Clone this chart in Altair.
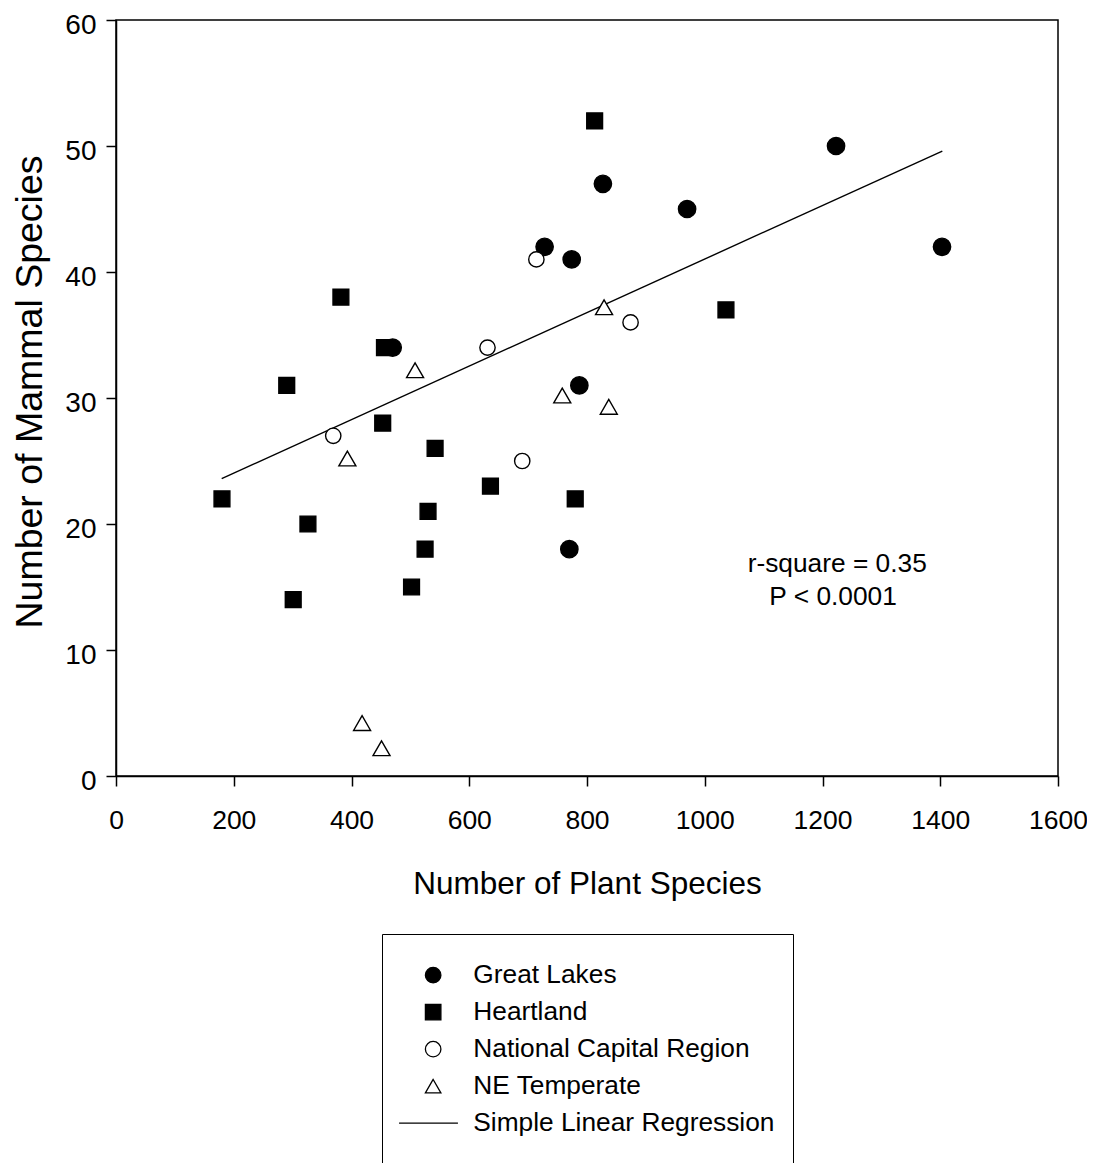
import altair as alt
import pandas as pd

# ---------------- data ----------------
groups = ["Great Lakes", "Heartland", "National Capital Region", "NE Temperate"]
reg_label = "Simple Linear Regression"

gl_x = [1223, 1403, 827, 970, 728, 774, 470, 787, 770]
gl_y = [50, 42, 47, 45, 42, 41, 34, 31, 18]

hl_x = [813, 1036, 382, 456, 290, 453, 542, 180, 636, 780, 326, 530, 525, 502, 301]
hl_y = [52, 37, 38, 34, 31, 28, 26, 22, 23, 22, 20, 21, 18, 15, 14]

ncr_x = [714, 631, 874, 369, 690]
ncr_y = [41, 34, 36, 27, 25]

ne_x = [829, 837, 758, 508, 393, 418, 451]
ne_y = [37.2, 29.3, 30.2, 32.2, 25.2, 4.2, 2.2]

reg_x = [179.5, 1403.5]
reg_y = [23.6, 49.6]

note_x = [1225, 1218]
note_y = [16.2, 13.57]
note_text = ["r-square = 0.35", "P < 0.0001"]

x_ticks = [0, 200, 400, 600, 800, 1000, 1200, 1400, 1600]
y_ticks = [0, 10, 20, 30, 40, 50, 60]

# ---------------- styles ----------------
FONT = "Liberation Sans"
legend_pad = " "  # blank row so the legend frame runs off the page bottom
legend_domain = groups + [reg_label, legend_pad]
shape_range = ["circle", "square", "circle", "triangle-up", "M-4.4,0H3.2", "M0,0"]
fill_range = ["black", "black", "white", "white", "transparent", "transparent"]
stroke_range = ["black", "black", "black", "black", "black", "transparent"]
point_size = {
    "Great Lakes": 300,
    "Heartland": 250,
    "National Capital Region": 235,
    "NE Temperate": 289,
}

pts = pd.DataFrame({
    "plants": gl_x + hl_x + ncr_x + ne_x,
    "mammals": gl_y + hl_y + ncr_y + ne_y,
    "region": [groups[0]] * len(gl_x) + [groups[1]] * len(hl_x)
    + [groups[2]] * len(ncr_x) + [groups[3]] * len(ne_x),
})
reg = pd.DataFrame({"plants": reg_x, "mammals": reg_y})
notes = pd.DataFrame({"plants": note_x, "mammals": note_y, "text": note_text})

x_enc = alt.X(
    "plants:Q",
    scale=alt.Scale(domain=[0, 1600], nice=False, zero=False),
    axis=alt.Axis(
        values=x_ticks, format="d", title="Number of Plant Species", grid=False,
        labelFontSize=26.5, labelPadding=21, labelFlush=False, labelOverlap=False,
        tickSize=10, tickWidth=1.5, domainWidth=1.5,
        titleFontSize=31.5, titleFontWeight="normal", titleY=117,
        titleBaseline="alphabetic",
    ),
)
y_enc = alt.Y(
    "mammals:Q",
    scale=alt.Scale(domain=[0, 60], nice=False),
    axis=alt.Axis(
        values=y_ticks, format="d", title="Number of Mammal Species", grid=False,
        labelFontSize=28, labelPadding=10, labelOffset=5, labelFlush=False,
        labelOverlap=False, tickSize=10, tickWidth=1.5, domainWidth=1.5,
        titleFontSize=37.5, titleFontWeight="normal", titleX=-75, titleY=371.5,
        titleAngle=270, titleAlign="center", titleBaseline="alphabetic",
    ),
)

legend = alt.Legend(
    title=" ", titleFontSize=4, titlePadding=6,
    orient="none", legendX=266, legendY=914,
    labelFontSize=26.3, labelFont=FONT, labelColor="black", labelLimit=500,
    symbolSize=240, symbolStrokeWidth=1.3,
    symbolOpacity=1, symbolOffset=20, labelOffset=27, rowPadding=10,
    padding=18, strokeColor="black",
)
shape_scale = alt.Scale(domain=legend_domain, range=shape_range)
fill_scale = alt.Scale(domain=legend_domain, range=fill_range)
stroke_scale = alt.Scale(domain=legend_domain, range=stroke_range)

layers = []
for g in groups:
    layers.append(
        alt.Chart(pts)
        .transform_filter(alt.datum.region == g)
        .mark_point(filled=True, size=point_size[g], strokeWidth=1.4, opacity=1)
        .encode(
            x=x_enc, y=y_enc,
            shape=alt.Shape("region:N", scale=shape_scale, legend=legend),
            fill=alt.Fill("region:N", scale=fill_scale, legend=legend),
            stroke=alt.Stroke("region:N", scale=stroke_scale, legend=legend),
        )
    )

line = alt.Chart(reg).mark_line(color="black", strokeWidth=1.4).encode(
    x="plants:Q", y="mammals:Q"
)
text = alt.Chart(notes).mark_text(
    font=FONT, fontSize=26.3, align="center", baseline="alphabetic", color="black"
).encode(x="plants:Q", y="mammals:Q", text="text:N")

chart = (
    alt.layer(line, *layers, text)
    .properties(
        width=942, height=756,
        padding={"left": 108, "top": 12, "right": 29, "bottom": 387},
        autosize=alt.AutoSizeParams(type="none"),
    )
    .configure(font=FONT)
    .configure_view(stroke="black", strokeWidth=1.5)
    .configure_axis(
        labelFont=FONT, titleFont=FONT, labelColor="black", titleColor="black",
        tickColor="black", domainColor="black",
    )
)

chart.save("out.html", embed_options={"renderer": "svg", "actions": False})
